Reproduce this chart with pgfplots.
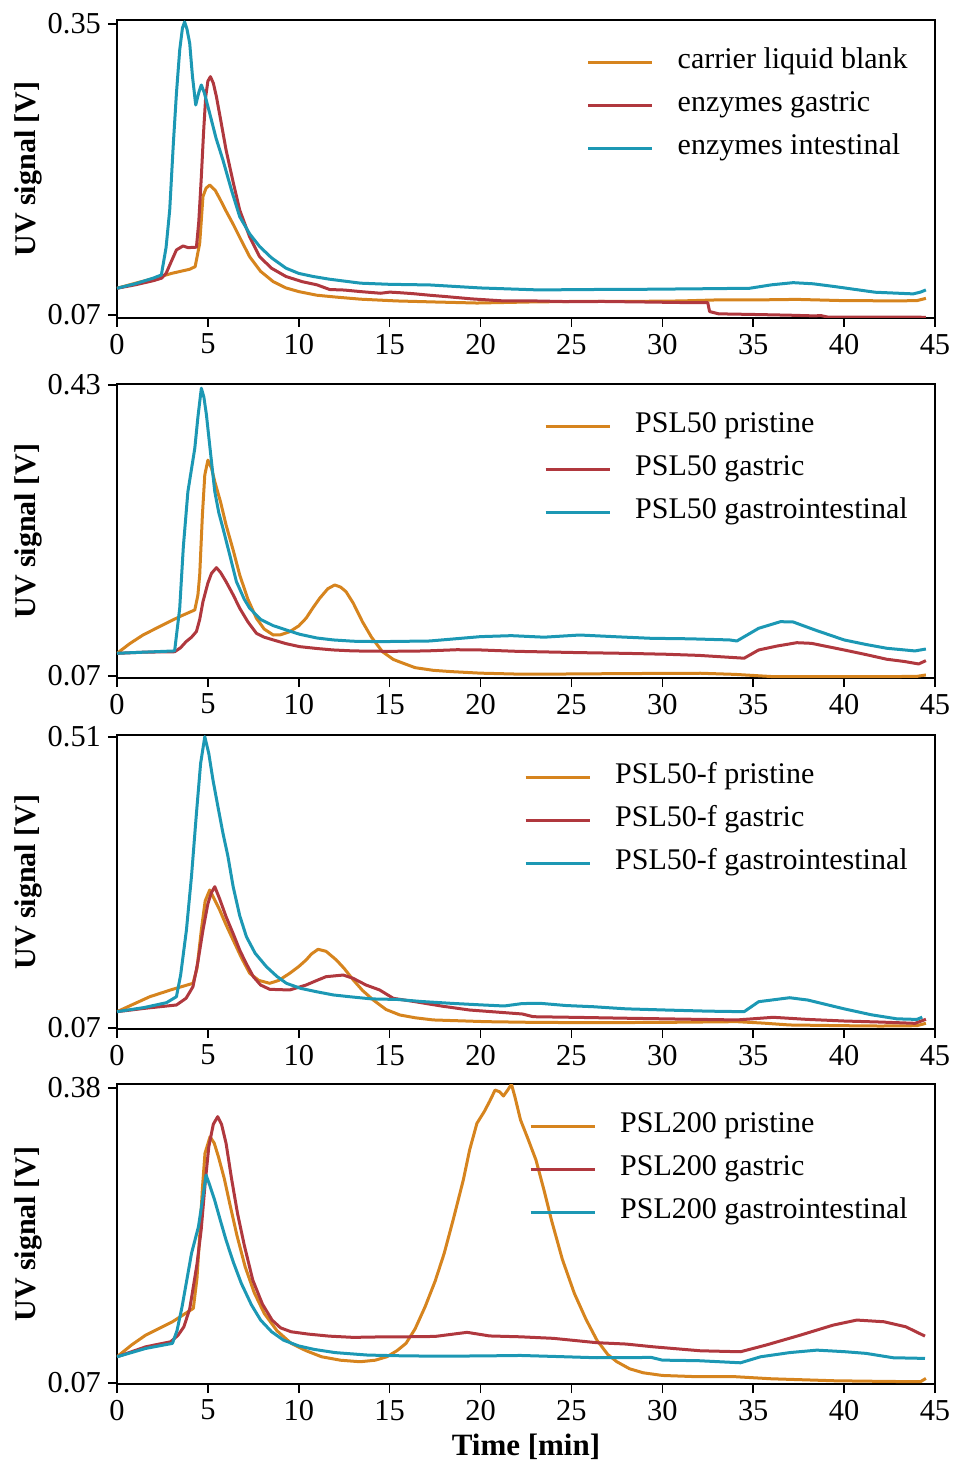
\documentclass[border=0pt]{standalone}
\usepackage{pgfplots}
\pgfplotsset{compat=1.18}
\usepackage{fontspec}
\setmainfont{Liberation Serif}
\definecolor{corange}{RGB}{214,132,30}
\definecolor{cred}{RGB}{176,56,62}
\definecolor{cteal}{RGB}{28,152,180}
\pgfplotsset{
  panel/.style={
    anchor=north west, scale only axis, width=409pt,
    xmin=0, xmax=45,
    xtick={0,5,10,15,20,25,30,35,40,45},
    xticklabels={0,5,10,15,20,25,30,35,40,45},
    tick align=outside, tick pos=left,
    major tick length=4.5pt,
    axis line style={line width=0.75pt},
    every tick/.style={black, line width=0.75pt},
    tick label style={font=\fontsize{15.2}{18}\selectfont},
    ylabel={\bfseries UV signal [V]},
    ylabel style={at={(axis description cs:-0.1088,0.5)}, anchor=center, font=\fontsize{15}{18}\selectfont},
    legend cell align=left,
    legend style={draw=none, fill=none, at={(axis description cs:0.9744,1)}, anchor=north east, yshift=-13pt,
      font=\fontsize{15}{18}\selectfont, row sep=9.5pt, column sep=12pt,
      nodes={inner sep=0pt, text height=9pt, text depth=3pt}},
    legend image code/.code={\draw[#1, line width=1.5pt] (0pt,0pt) -- (32pt,0pt);},
    every axis plot/.append style={line width=1.5pt, line join=round},
  }
}
\begin{document}
\begin{tikzpicture}
\path[use as bounding box] (0,0) rectangle (477pt,-730.5pt);
% ---------------- Panel 1
\begin{axis}[panel, at={(58.5pt,-10pt)}, height=149pt,
  ymin=0.0671, ymax=0.3538, ytick={0.07,0.35}, yticklabels={0.07,0.35}]
\addplot[corange] coordinates {(0,0.0957)(1,0.1005)(2,0.105)(3,0.110)(4,0.114)(4.3,0.1165)(4.55,0.139)(4.73,0.184)(4.9,0.192)(5.1,0.195)(5.4,0.190)(5.65,0.182)(6.0,0.170)(6.4,0.157)(6.8,0.143)(7.3,0.126)(7.9,0.112)(8.6,0.102)(9.3,0.096)(10.0,0.0925)(11,0.089)(12,0.0873)(13.4,0.0852)(15.4,0.0835)(17.5,0.0825)(19.8,0.0815)(22.7,0.0825)(25,0.083)(28,0.083)(31,0.0835)(33,0.0845)(35.2,0.0845)(37.4,0.085)(40,0.0838)(43,0.0836)(44,0.0838)(44.5,0.086)};
\addlegendentry{carrier liquid blank}
\addplot[cred] coordinates {(0,0.0957)(1,0.099)(2,0.103)(2.45,0.1054)(2.7,0.110)(3.0,0.122)(3.27,0.1326)(3.63,0.1364)(3.9,0.1348)(4.37,0.1352)(4.5,0.16)(4.64,0.203)(4.76,0.245)(4.88,0.280)(5.0,0.295)(5.14,0.2993)(5.3,0.293)(5.47,0.280)(5.7,0.258)(6.0,0.2288)(6.4,0.197)(6.75,0.171)(7.3,0.145)(7.85,0.126)(8.5,0.115)(9.3,0.107)(10.2,0.102)(11.0,0.099)(11.7,0.0945)(12.5,0.094)(13.4,0.0925)(14.5,0.0909)(15.0,0.092)(15.5,0.0915)(16.3,0.0905)(17.2,0.089)(18.1,0.0877)(19.5,0.0855)(21.3,0.0835)(23,0.0835)(25,0.0828)(26.7,0.083)(29,0.0825)(31,0.082)(32.5,0.0819)(32.6,0.0733)(33.1,0.0711)(35,0.0705)(37,0.0698)(38.4,0.0691)(38.7,0.0695)(39.1,0.0680)(42,0.0680)(44.5,0.0678)};
\addlegendentry{enzymes gastric}
\addplot[cteal] coordinates {(0,0.0957)(1,0.1)(2,0.1055)(2.44,0.1085)(2.7,0.135)(2.9,0.171)(3.1,0.235)(3.27,0.2833)(3.45,0.325)(3.6,0.346)(3.72,0.352)(3.85,0.345)(4.0,0.3314)(4.15,0.300)(4.33,0.272)(4.5,0.284)(4.64,0.2913)(4.8,0.284)(5.1,0.264)(5.45,0.240)(5.83,0.219)(6.3,0.190)(6.75,0.1646)(7.3,0.148)(7.85,0.1358)(8.5,0.125)(9.3,0.115)(10.0,0.110)(10.8,0.107)(11.7,0.1044)(13.4,0.1006)(15,0.0995)(17.2,0.0989)(20,0.096)(23.2,0.0941)(26,0.0945)(28.8,0.0947)(32,0.0952)(34.8,0.0957)(36,0.099)(37.2,0.1011)(38.3,0.100)(39.5,0.0973)(41.7,0.0919)(43.8,0.0903)(44.2,0.092)(44.5,0.0941)};
\addlegendentry{enzymes intestinal}
\end{axis}
% ---------------- Panel 2
\begin{axis}[panel, at={(58.5pt,-192pt)}, height=147pt,
  ymin=0.0675, ymax=0.4312, ytick={0.07,0.43}, yticklabels={0.07,0.43}]
\addplot[corange] coordinates {(0,0.098)(0.7,0.110)(1.43,0.1207)(2.7,0.1352)(3.5,0.144)(4.28,0.1517)(4.45,0.170)(4.55,0.195)(4.7,0.270)(4.83,0.3187)(5.0,0.337)(5.2,0.327)(5.38,0.3104)(5.7,0.285)(6.0,0.2568)(6.4,0.225)(6.75,0.195)(7.2,0.165)(7.67,0.1414)(8.1,0.128)(8.6,0.1207)(9.0,0.121)(9.5,0.1248)(10.0,0.132)(10.4,0.1414)(10.8,0.155)(11.15,0.1661)(11.6,0.178)(11.98,0.1826)(12.3,0.180)(12.6,0.1743)(13.0,0.160)(13.5,0.1372)(14.0,0.118)(14.6,0.1001)(15.2,0.0905)(15.6,0.087)(16.4,0.0803)(17.4,0.077)(18.4,0.0754)(20,0.0735)(22.3,0.0722)(25,0.0725)(28,0.073)(32.1,0.0734)(34,0.072)(36.1,0.0692)(39,0.0692)(42,0.0692)(44,0.0695)(44.5,0.0713)};
\addlegendentry{PSL50 pristine}
\addplot[cred] coordinates {(0,0.098)(1.5,0.0995)(3.17,0.100)(3.5,0.105)(3.8,0.1125)(4.1,0.118)(4.37,0.125)(4.55,0.140)(4.73,0.162)(5.0,0.185)(5.2,0.197)(5.47,0.204)(5.7,0.198)(6.0,0.1867)(6.4,0.170)(6.75,0.1538)(7.2,0.137)(7.67,0.1228)(8.1,0.118)(8.6,0.1146)(9.3,0.110)(10.05,0.1063)(11,0.104)(11.9,0.1022)(13,0.101)(15,0.1005)(17,0.101)(18.7,0.1025)(20,0.1022)(22,0.1005)(25.45,0.0989)(28,0.098)(30.2,0.0969)(32,0.0955)(34.5,0.092)(35.3,0.1022)(36.3,0.107)(37.4,0.1112)(38.2,0.1104)(40,0.1022)(41.2,0.0965)(42.35,0.0907)(43.3,0.088)(44.1,0.0849)(44.5,0.0890)};
\addlegendentry{PSL50 gastric}
\addplot[cteal] coordinates {(0,0.0981)(1.5,0.0995)(3.17,0.101)(3.45,0.1538)(3.65,0.23)(3.9,0.298)(4.28,0.3517)(4.45,0.39)(4.64,0.426)(4.78,0.415)(4.92,0.393)(5.15,0.345)(5.38,0.298)(5.6,0.272)(5.83,0.2527)(6.2,0.220)(6.57,0.1867)(7.0,0.165)(7.3,0.1538)(7.9,0.140)(8.59,0.1323)(9.3,0.127)(10.05,0.1216)(11,0.117)(11.9,0.1146)(13,0.113)(14.45,0.1125)(17.2,0.1133)(20,0.1187)(21.7,0.1199)(23.5,0.118)(25.45,0.1207)(27.5,0.1185)(29.4,0.1166)(31.5,0.116)(33.7,0.1146)(34.1,0.1133)(35.3,0.129)(36.5,0.1372)(37.2,0.1368)(38.4,0.1269)(40,0.1146)(41.2,0.109)(42.35,0.1043)(43.9,0.101)(44.5,0.1034)};
\addlegendentry{PSL50 gastrointestinal}
\end{axis}
% ---------------- Panel 3
\begin{axis}[panel, at={(58.5pt,-367.5pt)}, height=147pt,
  ymin=0.0685, ymax=0.513, ytick={0.07,0.51}, yticklabels={0.07,0.51}]
\addplot[corange] coordinates {(0,0.0947)(1.8,0.1173)(3.0,0.128)(4.18,0.1376)(4.4,0.160)(4.64,0.2182)(4.85,0.262)(5.1,0.2787)(5.35,0.265)(5.65,0.2484)(6.0,0.226)(6.39,0.203)(6.85,0.176)(7.3,0.1527)(7.8,0.142)(8.4,0.1376)(8.9,0.142)(9.5,0.1527)(10.0,0.163)(10.4,0.1728)(10.7,0.182)(11.06,0.189)(11.5,0.186)(12.07,0.1728)(12.5,0.160)(13.0,0.1426)(13.5,0.127)(14.1,0.1123)(14.8,0.098)(15.56,0.0897)(16.4,0.0855)(17.4,0.0822)(20.3,0.0796)(23,0.0785)(26.2,0.0781)(30,0.0785)(34.1,0.0796)(35.5,0.0775)(37,0.0746)(40,0.0735)(42,0.073)(44,0.0735)(44.5,0.0771)};
\addlegendentry{PSL50-f pristine}
\addplot[cred] coordinates {(0,0.0947)(1.6,0.1)(3.27,0.1048)(3.8,0.115)(4.18,0.1325)(4.45,0.170)(4.73,0.2182)(5.0,0.258)(5.2,0.275)(5.38,0.2837)(5.65,0.265)(6.0,0.2383)(6.4,0.212)(6.75,0.1879)(7.1,0.168)(7.5,0.1476)(7.9,0.135)(8.4,0.1285)(9.5,0.1275)(10.4,0.135)(11.0,0.142)(11.5,0.1476)(12.44,0.1501)(13.0,0.145)(13.7,0.135)(14.45,0.1275)(15.2,0.1149)(16.4,0.1098)(17.9,0.103)(19.4,0.0972)(22.3,0.0912)(22.9,0.0871)(25.5,0.086)(28.2,0.0847)(31,0.0835)(34.1,0.0822)(36.1,0.0862)(38,0.083)(40,0.0806)(42,0.079)(43.9,0.0771)(44.5,0.0832)};
\addlegendentry{PSL50-f gastric}
\addplot[cteal] coordinates {(0,0.0947)(1.5,0.101)(2.72,0.1083)(3.27,0.1173)(3.5,0.150)(3.82,0.2182)(4.1,0.300)(4.37,0.3946)(4.6,0.470)(4.83,0.5105)(5.05,0.485)(5.28,0.445)(5.55,0.405)(5.83,0.3644)(6.1,0.330)(6.39,0.2837)(6.75,0.240)(7.12,0.208)(7.6,0.183)(8.22,0.1627)(8.8,0.148)(9.32,0.1376)(10.1,0.130)(10.97,0.1249)(11.9,0.120)(12.8,0.1173)(14,0.114)(15.4,0.1132)(16.8,0.110)(18.4,0.1073)(20,0.105)(21.3,0.1033)(22.3,0.107)(23.3,0.1073)(24.7,0.104)(26.2,0.1022)(28,0.099)(30.2,0.0972)(32.5,0.0955)(34.5,0.0947)(35.3,0.1098)(37.0,0.1158)(38.0,0.1123)(40,0.099)(41.5,0.090)(42.9,0.0839)(44,0.083)(44.3,0.0864)};
\addlegendentry{PSL50-f gastrointestinal}
\end{axis}
% ---------------- Panel 4
\begin{axis}[panel, at={(58.5pt,-542pt)}, height=150pt,
  ymin=0.069, ymax=0.3842, ytick={0.07,0.38}, yticklabels={0.07,0.38},
  xlabel={\bfseries Time [min]},
  xlabel style={at={(axis description cs:0.5,0)}, anchor=center, yshift=-31.5pt, font=\fontsize{15.5}{18}\selectfont}]
\addplot[corange] coordinates {(0,0.0976)(0.8,0.110)(1.58,0.1204)(3.05,0.1344)(4.2,0.1485)(4.4,0.18)(4.57,0.2308)(4.7,0.275)(4.84,0.3114)(5.12,0.3288)(5.35,0.322)(5.58,0.3078)(5.9,0.285)(6.2,0.2588)(6.6,0.225)(7.05,0.1922)(7.55,0.165)(8.1,0.1432)(8.8,0.125)(9.58,0.1117)(10.4,0.104)(11.26,0.0976)(12.3,0.094)(13.37,0.0924)(14.2,0.094)(14.84,0.0976)(15.4,0.104)(15.9,0.1117)(16.4,0.127)(16.95,0.1502)(17.5,0.177)(18.0,0.2063)(18.5,0.242)(19.05,0.2833)(19.4,0.315)(19.8,0.3429)(20.2,0.3551)(20.5,0.366)(20.8,0.3779)(21.05,0.376)(21.26,0.3716)(21.5,0.378)(21.7,0.384)(21.9,0.370)(22.2,0.3464)(22.6,0.327)(23.05,0.3043)(23.5,0.272)(23.9,0.2413)(24.5,0.200)(25.16,0.1642)(25.8,0.137)(26.4,0.1151)(27.0,0.100)(27.5,0.0924)(28.2,0.085)(28.95,0.0808)(30,0.078)(31.9,0.0767)(34,0.0767)(36,0.0745)(39.5,0.0724)(42,0.0718)(44.2,0.0714)(44.5,0.0749)};
\addlegendentry{PSL200 pristine}
\addplot[cred] coordinates {(0,0.0976)(1.58,0.1081)(2.95,0.1134)(3.35,0.120)(3.68,0.1291)(4.0,0.148)(4.2,0.1712)(4.4,0.195)(4.63,0.2308)(4.85,0.280)(5.05,0.3183)(5.3,0.342)(5.54,0.3499)(5.75,0.342)(6.0,0.3219)(6.3,0.285)(6.63,0.2483)(7.0,0.215)(7.47,0.1782)(8.0,0.153)(8.53,0.1362)(9.0,0.128)(9.58,0.1239)(10.5,0.1215)(11.68,0.1193)(13,0.118)(14.5,0.1185)(15.9,0.1186)(17.5,0.119)(19.26,0.1233)(20.5,0.1195)(22.2,0.1186)(24,0.117)(26.4,0.1124)(28,0.111)(29.5,0.1081)(32.1,0.1039)(34.3,0.1029)(35.7,0.1099)(37.6,0.1204)(39.4,0.1309)(40.7,0.1362)(42.2,0.1344)(43.4,0.1291)(44.45,0.1193)};
\addlegendentry{PSL200 gastric}
\addplot[cteal] coordinates {(0,0.0976)(1.58,0.1064)(3.05,0.1117)(3.3,0.125)(3.58,0.1502)(4.1,0.2063)(4.48,0.2342)(4.7,0.262)(4.9,0.2886)(5.1,0.278)(5.37,0.2623)(5.7,0.240)(6.0,0.2202)(6.4,0.197)(6.84,0.1747)(7.4,0.152)(7.9,0.1362)(8.5,0.124)(9.16,0.1151)(10.0,0.109)(10.84,0.1054)(12,0.102)(13.8,0.0994)(16,0.0985)(18,0.0983)(20,0.0985)(22.2,0.099)(24,0.098)(26.4,0.0966)(28,0.0968)(29.4,0.0969)(30,0.0941)(32,0.0935)(34.3,0.0913)(35.4,0.0976)(37,0.102)(38.5,0.1046)(40,0.103)(41.2,0.1012)(42.7,0.0966)(44.45,0.0959)};
\addlegendentry{PSL200 gastrointestinal}
\end{axis}
\end{tikzpicture}
\end{document}
